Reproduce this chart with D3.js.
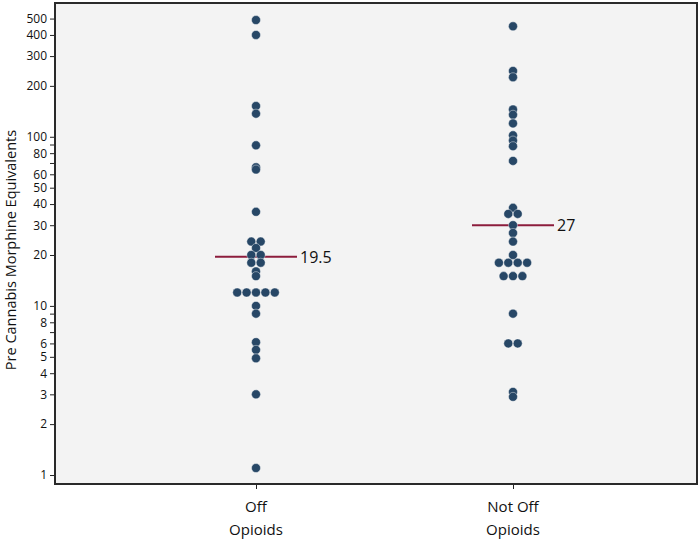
<!DOCTYPE html>
<html>
<head>
<meta charset="utf-8">
<script src="https://cdn.jsdelivr.net/npm/d3@7"></script>
<style>
  html, body { margin: 0; padding: 0; background: #ffffff; }
  svg { display: block; }
  text { font-family: "Open Sans", "Noto Sans", sans-serif; fill: #111; }
</style>
</head>
<body>
<svg id="chart" width="700" height="541"></svg>
<script>
// ---- data ----
const categories = ["Off Opioids", "Not Off Opioids"];
const categoryLabels = [["Off", "Opioids"], ["Not Off", "Opioids"]];
const offOpioids = [490, 400, 152, 137, 89, 66, 64, 36, 24, 24, 22, 20, 20, 18, 18, 16, 15,
                    12, 12, 12, 12, 12, 10, 9, 6.1, 5.5, 4.9, 3, 1.1];
const notOffOpioids = [450, 245, 225, 145, 135, 120, 102, 95, 88, 72, 38, 35, 35, 30, 27, 24,
                       20, 18, 18, 18, 18, 15, 15, 15, 9, 6, 6, 3.1, 2.9];
const medianLineValues = [19.5, 30];
const medianLabels = ["19.5", "27"];
const yTickValues = [1, 2, 3, 4, 5, 6, 7, 8, 9, 10, 20, 30, 40, 50, 60, 70, 80, 90, 100, 200, 300, 400, 500];
const yTickLabelled = [1, 2, 3, 4, 5, 6, 8, 10, 20, 30, 40, 50, 60, 80, 100, 200, 300, 400, 500];
const yAxisTitle = "Pre Cannabis Morphine Equivalents";

// ---- layout ----
const plot = { left: 55, top: 3, right: 697, bottom: 484 };
const dotR = 4.5, dotStep = 9.4;

const svg = d3.select("#chart");

const y = d3.scaleLog().domain([0.885, 618]).range([plot.bottom, plot.top]);
const x = d3.scalePoint().domain(categories).range([256, 513]);

// plot background
svg.append("rect")
  .attr("x", plot.left).attr("y", plot.top)
  .attr("width", plot.right - plot.left).attr("height", plot.bottom - plot.top)
  .attr("fill", "#f3f3f3");

// y axis
const yAxis = d3.axisLeft(y)
  .tickValues(yTickValues)
  .tickSize(5)
  .tickPadding(3)
  .tickFormat(d => yTickLabelled.includes(d) ? String(d) : "");
const gy = svg.append("g").attr("transform", `translate(${plot.left},0)`).call(yAxis);
gy.select(".domain").remove();
gy.selectAll(".tick line").attr("stroke", "#222").attr("stroke-width", 1);
gy.selectAll(".tick text").filter(d => !yTickLabelled.includes(d)).remove();
gy.selectAll(".tick text").style("font-size", "12px").attr("fill", "#111");

// x axis
const xAxis = d3.axisBottom(x).tickSize(5).tickFormat("");
const gx = svg.append("g").attr("transform", `translate(0,${plot.bottom})`).call(xAxis);
gx.select(".domain").remove();
gx.selectAll(".tick line").attr("stroke", "#222").attr("stroke-width", 1);
gx.selectAll(".tick text").remove();
categories.forEach((c, i) => {
  const t = svg.append("text")
    .attr("x", x(c)).attr("y", 512)
    .attr("text-anchor", "middle")
    .style("font-size", "15px");
  categoryLabels[i].forEach((line, j) => {
    t.append("tspan").attr("x", x(c)).attr("dy", j === 0 ? 0 : 23).text(line);
  });
});

// frame
svg.append("rect")
  .attr("x", plot.left).attr("y", plot.top)
  .attr("width", plot.right - plot.left).attr("height", plot.bottom - plot.top)
  .attr("fill", "none").attr("stroke", "#2a2a2a").attr("stroke-width", 2);

// y title
svg.append("text")
  .attr("transform", `translate(16,250) rotate(-90)`)
  .attr("text-anchor", "middle")
  .style("font-size", "14.5px")
  .text(yAxisTitle);

// symmetric dot layout: identical values share a row, spread around the centre
function layout(values, cat) {
  const groups = d3.group(values, v => v);
  const pts = [];
  for (const [v, arr] of groups) {
    const n = arr.length;
    arr.forEach((_, i) => pts.push({ v, cx: x(cat) + (i - (n - 1) / 2) * dotStep, cy: y(v) }));
  }
  return pts;
}
const seriesList = [offOpioids, notOffOpioids];

// median lines
categories.forEach((c, i) => {
  const ym = y(medianLineValues[i]);
  svg.append("line")
    .attr("x1", x(c) - 41).attr("x2", x(c) + 41)
    .attr("y1", ym).attr("y2", ym)
    .attr("stroke", "#8c1c3c").attr("stroke-width", 2);
  svg.append("text")
    .attr("x", x(c) + 44).attr("y", ym)
    .attr("dy", "0.36em")
    .style("font-size", "16px")
    .text(medianLabels[i]);
});

// dots
categories.forEach((c, i) => {
  svg.append("g").selectAll("circle")
    .data(layout(seriesList[i], c))
    .join("circle")
    .attr("cx", d => d.cx).attr("cy", d => d.cy).attr("r", dotR)
    .attr("fill", "#274766")
    .attr("stroke", "#ffffff").attr("stroke-opacity", 0.6).attr("stroke-width", 0.7);
});
</script>
</body>
</html>
